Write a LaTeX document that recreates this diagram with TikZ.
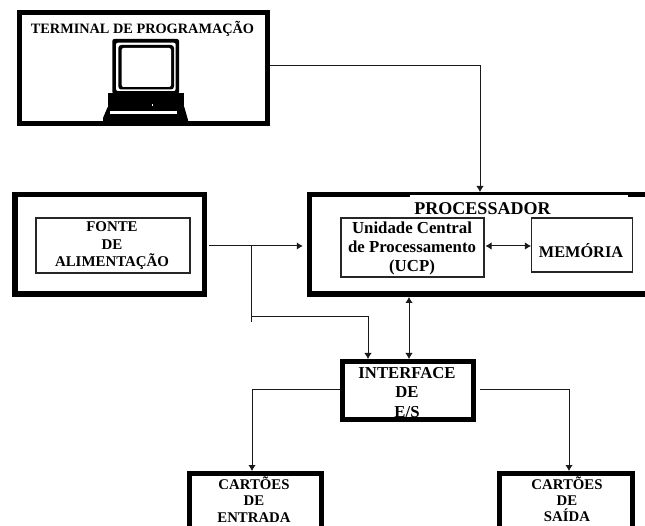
\documentclass[tikz,border=0pt]{standalone}
\usepackage{fontspec}
\setmainfont{Liberation Serif}
\usetikzlibrary{arrows.meta}
\tikzset{
  heavybox/.style={draw=black,line width=5.5pt,rectangle,inner sep=0pt,fill=white},
  lightbox/.style={draw=black!85,line width=1.1pt,rectangle,inner sep=0pt,fill=white},
  lbl/.style={inner sep=0pt,align=center,text=black},
  fsz/.style 2 args={font=\fontsize{#1}{#2}\selectfont\bfseries},
  conn/.style={draw=black!90,line width=1pt},
  tip/.style={-{Latex[length=6pt,width=7.5pt]}},
  bitip/.style={{Latex[length=6pt,width=7.5pt]}-{Latex[length=6pt,width=7.5pt]}},
}
\begin{document}
\begin{tikzpicture}[x=1pt,y=-1pt]
\useasboundingbox (0,0) rectangle (645,526);
\clip (0,0) rectangle (645,526);
% boxes
\node[heavybox,line width=5pt,minimum width=248pt,minimum height=111pt] (term) at (143.5,68) {};
\node[lbl,fsz={14.3}{19}] (termt) at (142.5,29) {TERMINAL DE PROGRAMAÇÃO};
% monitor
\fill[black,rounded corners=2pt] (112.3,39) rectangle (179,94);
\fill[white,rounded corners=2pt] (116,42.7) rectangle (175.7,91);
\fill[black,rounded corners=3pt] (118.3,45) rectangle (174,89.5);
\fill[white,rounded corners=2pt] (121.7,48) rectangle (171,87);
\fill[black] (107.7,93) rectangle (184.3,109);
\fill[black] (107.7,107) -- (184.3,107) -- (188,120) -- (188,123) -- (103,123) -- (103,118) -- cycle;
\fill[white] (110,111.5) rectangle (177,114);
\fill[white] (151.5,104.5) rectangle (153,106);
% fonte
\node[heavybox,minimum width=189.5pt,minimum height=99.5pt] (fonte) at (109.5,244.5) {};
\node[lightbox,minimum width=154pt,minimum height=55pt] (fontei) at (113,245.5) {};
\node[lbl,fsz={14.9}{17.5}] (fontet) at (112,246) {FONTE\\DE\\ALIMENTAÇÃO};
% processador
\node[heavybox,minimum width=348pt,minimum height=99.5pt] (proc) at (483.5,244.5) {};
\fill[white] (410,195.5) rectangle (628,198);
\node[lbl,fsz={18}{19}] (proct) at (482.5,209) {PROCESSADOR};
\node[lightbox,minimum width=143pt,minimum height=59pt] (ucp) at (412.5,247.5) {};
\node[lbl,fsz={16.8}{19}] (ucpt) at (412,248) {Unidade Central\\de Processamento\\(UCP)};
\node[lightbox,minimum width=101pt,minimum height=54pt] (mem) at (582,245) {};
\node[lbl,fsz={16.3}{19}] (memt) at (581,251) {MEMÓRIA};
% interface
\node[heavybox,line width=5pt,minimum width=131pt,minimum height=58pt] (iface) at (408,390.5) {};
\node[lbl,fsz={16.7}{19.5}] (ifacet) at (407,392.5) {INTERFACE\\DE\\E/S};
% cartoes
\node[heavybox,line width=5pt,minimum width=132pt,minimum height=110pt] (cent) at (255.5,528.5) {};
\node[lbl,fsz={14.8}{16.2}] (centt) at (254,499.5) {CARTÕES\\DE\\ENTRADA};
\node[heavybox,line width=5pt,minimum width=133pt,minimum height=110pt] (csai) at (566,528.5) {};
\node[lbl,fsz={14.8}{16.2}] (csait) at (567,499.5) {CARTÕES\\DE\\SAÍDA};
% connectors
\coordinate (c1) at (480,66);
\coordinate (c2) at (251.5,246);
\coordinate (c3) at (251.5,322);
\coordinate (c4) at (368,317);
\coordinate (c5) at (409,297);
\coordinate (c6) at (340,389);
\coordinate (c7) at (252,389);
\coordinate (c8) at (480,389);
\coordinate (c9) at (569,389);
\coordinate (c10) at (1,246);
\draw[conn,tip] (term.east |- c1) -- (c1) -- (c1 |- proc.north);
\draw[conn,tip,shorten >=4pt,shorten <=2pt] (fonte.east |- c10) -- (proc.west |- c10);
\draw[conn] (c2) -- (c3);
\draw[conn,tip] (c2 |- c4) -- (c4) -- (c4 |- iface.north);
\draw[conn,bitip] (c5 |- proc.south) -- (c5 |- iface.north);
\draw[conn,bitip,shorten <=1pt] (ucp.east |- c10) -- (mem.west |- c10);
\draw[conn,tip] (iface.west |- c6) -- (c7) -- (c7 |- cent.north);
\draw[conn,tip] (c8) -- (c9) -- (c9 |- csai.north);
\end{tikzpicture}
\end{document}
